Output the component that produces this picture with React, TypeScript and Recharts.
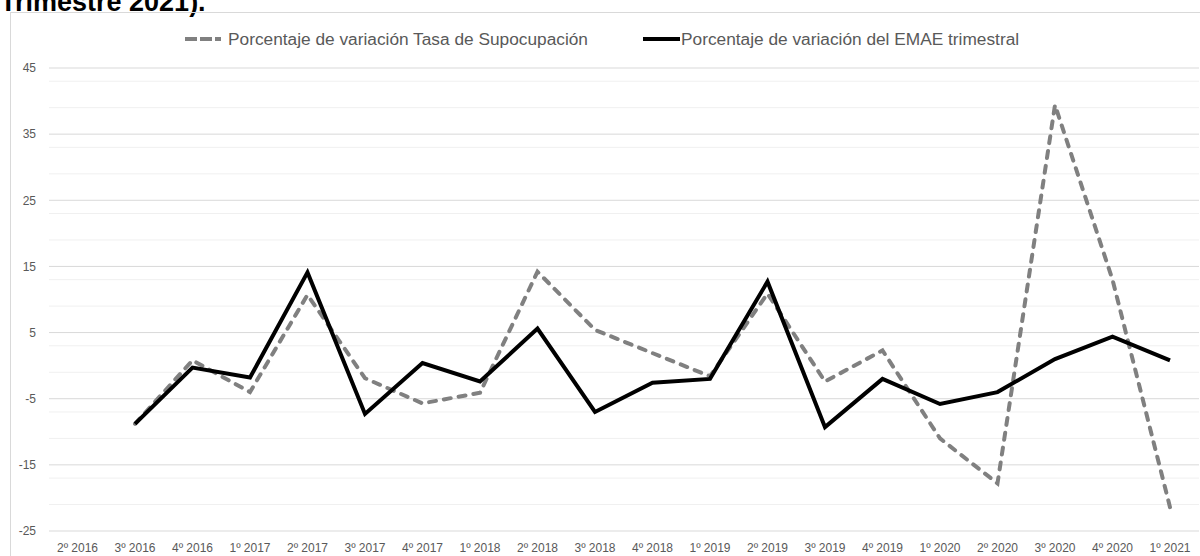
import { LineChart, Line, XAxis, YAxis, CartesianGrid } from 'recharts'

const quarters = [
  '2º 2016', '3º 2016', '4º 2016', '1º 2017', '2º 2017', '3º 2017', '4º 2017',
  '1º 2018', '2º 2018', '3º 2018', '4º 2018', '1º 2019', '2º 2019', '3º 2019',
  '4º 2019', '1º 2020', '2º 2020', '3º 2020', '4º 2020', '1º 2021',
]

const subocupacion = [
  null, -8.8, 0.8, -4.0, 10.7, -1.9, -5.7, -4.1, 14.2, 5.4,
  1.9, -1.6, 10.9, -2.4, 2.3, -11.0, -17.8, 39.4, 13.0, -21.4,
]

const emae = [
  null, -8.8, -0.3, -1.8, 14.1, -7.3, 0.4, -2.4, 5.6, -7.0,
  -2.6, -2.0, 12.7, -9.3, -2.0, -5.8, -4.0, 1.0, 4.4, 0.8,
]

const yMajorTicks = [-25, -15, -5, 5, 15, 25, 35, 45]
const yMinorLines = [
  -23, -21, -19, -17, -13, -11, -9, -7, -3, -1, 1, 3, 7, 9, 11, 13,
  17, 19, 21, 23, 27, 29, 31, 33, 37, 39, 41, 43,
]

const subName = 'Porcentaje de variación Tasa de Supocupación'
const emaeName = 'Porcentaje de variación del EMAE trimestral'

const data = quarters.map((q, i) => ({ q, sub: subocupacion[i], emae: emae[i] }))

const labelColor = '#595959'
const font = '"Liberation Sans", Arial, sans-serif'

export default function App() {
  return (
    <div
      style={{
        position: 'absolute',
        left: 0,
        top: 0,
        width: 1200,
        height: 556,
        overflow: 'hidden',
        background: '#fff',
        fontFamily: font,
      }}
    >
      <svg width={1200} height={556} style={{ position: 'absolute', left: 0, top: 0 }}>
        <text x={0} y={11} fontSize={27} fontWeight="bold" fill="#000" fontFamily={font}>
          Trimestre 2021).
        </text>
        <rect x={10.5} y={12.5} width={1220} height={600} fill="none" stroke="#d9d9d9" />
        {/* legend */}
        <line x1={185} y1={39} x2={224} y2={39} stroke="#808080" strokeWidth={4} strokeDasharray="12 3 12 3 6" />
        <text x={228} y={45} fontSize={17.3} fill={labelColor} fontFamily={font}>{subName}</text>
        <line x1={643} y1={39} x2={680} y2={39} stroke="#000" strokeWidth={4} />
        <text x={681} y={45} fontSize={17.3} fill={labelColor} fontFamily={font}>{emaeName}</text>
      </svg>
      <div style={{ position: 'absolute', left: 0, top: 0 }}>
        <LineChart width={1200} height={556} data={data} margin={{ top: 68, right: 1, bottom: 0, left: 0 }}>
          <CartesianGrid vertical={false} horizontalValues={yMinorLines} stroke="#f0f0f0" />
          <CartesianGrid vertical={false} horizontalValues={yMajorTicks} stroke="#d9d9d9" />
          <XAxis
            dataKey="q"
            axisLine={false}
            tickLine={false}
            interval={0}
            height={25}
            tickMargin={6}
            padding={{ left: 28.5, right: 29 }}
            tick={{ fill: labelColor, fontSize: 12, fontFamily: font }}
          />
          <YAxis
            width={49}
            domain={[-25, 45]}
            ticks={yMajorTicks}
            axisLine={false}
            tickLine={false}
            tickMargin={7}
            tick={{ fill: labelColor, fontSize: 12, fontFamily: font }}
          />
          <Line
            dataKey="sub"
            name={subName}
            stroke="#808080"
            strokeWidth={4}
            strokeDasharray="7 8"
            strokeLinecap="round"
            dot={false}
            activeDot={false}
            isAnimationActive={false}
          />
          <Line
            dataKey="emae"
            name={emaeName}
            stroke="#000"
            strokeWidth={4}
            dot={false}
            activeDot={false}
            isAnimationActive={false}
          />
        </LineChart>
      </div>
    </div>
  )
}
